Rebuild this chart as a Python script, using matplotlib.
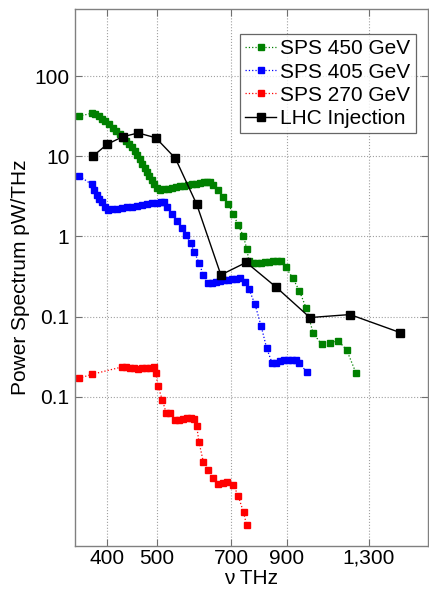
import matplotlib
matplotlib.use("Agg")
import matplotlib.pyplot as plt
from matplotlib.ticker import FixedLocator, FixedFormatter, NullLocator

plt.rcParams['font.family'] = ['Liberation Sans', 'DejaVu Sans']

# SPS 450 GeV spectrum (THz, pW/THz)
freq_450 = [352, 373, 379, 385, 391, 397, 404, 410, 417, 423, 430, 436, 442, 448,
            453, 458, 463, 468, 474, 479, 484, 490, 495, 501, 508, 517, 527, 536,
            546, 556, 566, 576, 587, 597, 608, 619, 628, 636, 646, 660, 674, 691,
            707, 722, 739, 751, 758, 773, 786, 801, 815, 830, 845, 860, 878, 895,
            923, 952, 982, 1013, 1052, 1092, 1134, 1178, 1228]
power_450 = [31.5, 34.3, 33.6, 31.7, 29.5, 27.5, 24.9, 22.8, 20.9, 18.9, 17.1, 15.7,
             14.2, 13.0, 11.6, 10.4, 9.24, 8.12, 7.24, 6.36, 5.67, 5.06, 4.51, 4.02,
             3.80, 3.87, 3.95, 4.03, 4.12, 4.20, 4.28, 4.36, 4.45, 4.54, 4.62, 4.71,
             4.78, 4.82, 4.38, 3.77, 3.13, 2.52, 1.89, 1.39, 1.02, 0.698, 0.495,
             0.463, 0.467, 0.474, 0.481, 0.488, 0.495, 0.499, 0.495, 0.413, 0.307,
             0.209, 0.127, 0.0622, 0.0454, 0.0475, 0.0503, 0.0385, 0.0201]

# SPS 405 GeV spectrum
freq_405 = [353, 373, 377, 382, 386, 391, 396, 402, 409, 418, 428, 438, 448, 458,
            468, 479, 490, 501, 510, 516, 523, 535, 548, 560, 571, 583, 593, 606,
            617, 630, 642, 654, 665, 678, 690, 702, 715, 728, 745, 758, 779, 801,
            821, 842, 857, 872, 888, 904, 920, 937, 951, 983]
power_405 = [5.67, 4.45, 3.80, 3.29, 2.93, 2.69, 2.33, 2.14, 2.17, 2.22, 2.27, 2.31,
             2.36, 2.42, 2.47, 2.52, 2.58, 2.64, 2.69, 2.71, 2.35, 1.91, 1.56, 1.29,
             1.04, 0.823, 0.632, 0.463, 0.331, 0.263, 0.267, 0.271, 0.276, 0.283,
             0.287, 0.293, 0.297, 0.301, 0.271, 0.222, 0.143, 0.0767, 0.0408,
             0.0263, 0.0269, 0.0277, 0.0285, 0.0289, 0.0293, 0.0285, 0.0269, 0.0205]

# SPS 270 GeV spectrum
freq_270 = [352, 374, 428, 436, 444, 452, 460, 468, 477, 486, 494, 498, 503, 513,
            522, 531, 543, 553, 563, 574, 584, 592, 599, 605, 617, 631, 645, 660,
            675, 688, 707, 722, 740, 750]
power_270 = [0.0171, 0.0192, 0.0237, 0.0234, 0.0230, 0.0227, 0.0223, 0.0227, 0.0231,
             0.0233, 0.0234, 0.0199, 0.0137, 0.00918, 0.00632, 0.00623, 0.00517,
             0.00524, 0.00532, 0.00540, 0.00543, 0.00532, 0.00436, 0.00277, 0.00157,
             0.00123, 0.000965, 0.000824, 0.00084, 0.000873, 0.00080, 0.000589,
             0.000365, 0.000254]

# LHC injection spectrum
freq_lhc = [375, 400, 429, 460, 498, 544, 599, 668, 749, 857, 998, 1196, 1498]
power_lhc = [10.0, 14.1, 17.5, 19.5, 17.0, 9.44, 2.52, 0.332, 0.476, 0.234, 0.0977,
             0.1065, 0.0636]

x_ticks = [400, 500, 700, 900, 1300]
x_tick_labels = ['400', '500', '700', '900', '1,300']
y_ticks = [100, 10, 1, 0.1, 0.01]
y_tick_labels = ['100', '10', '1', '0.1', '0.1']

FS = 15

fig = plt.figure(figsize=(4.29, 5.90), dpi=100)
ax = fig.add_axes([75 / 429, 44 / 590, 353 / 429, 537 / 590])
ax.set_xscale('log')
ax.set_yscale('log')

ms_small = 5.0
ax.plot(freq_450, power_450, ls=':', lw=0.9, color='#008000', marker='s',
        ms=ms_small, mec='#008000', mfc='#008000', label='SPS 450 GeV')
ax.plot(freq_405, power_405, ls=':', lw=0.9, color='#0000ff', marker='s',
        ms=ms_small, mec='#0000ff', mfc='#0000ff', label='SPS 405 GeV')
ax.plot(freq_270, power_270, ls=':', lw=0.9, color='#ff0000', marker='s',
        ms=ms_small, mec='#ff0000', mfc='#ff0000', label='SPS 270 GeV')
ax.plot(freq_lhc, power_lhc, ls='-', lw=1.0, color='black', marker='s',
        ms=5.8, mec='black', mfc='black', label='LHC Injection')

ax.set_xlim(346, 1700)
ax.set_ylim(1.39e-4, 684)

ax.xaxis.set_major_locator(FixedLocator(x_ticks))
ax.xaxis.set_major_formatter(FixedFormatter(x_tick_labels))
ax.xaxis.set_minor_locator(NullLocator())
ax.yaxis.set_major_locator(FixedLocator(y_ticks))
ax.yaxis.set_major_formatter(FixedFormatter(y_tick_labels))
ax.yaxis.set_minor_locator(NullLocator())

ax.grid(True, which='major', ls=':', color='#a0a0a0', lw=0.8)
ax.tick_params(which='major', direction='in', top=True, right=True, length=5,
               width=0.8, color='#707070', labelsize=FS)
ax.tick_params(axis='x', pad=2)
ax.tick_params(axis='y', pad=4)
for sp in ax.spines.values():
    sp.set_color('#808080')
    sp.set_linewidth(1.0)

ax.set_xlabel('ν THz', fontsize=FS, va='center')
ax.xaxis.set_label_coords(0.5, -0.06)
ax.set_ylabel('Power Spectrum pW/THz', fontsize=FS, va='center')
ax.yaxis.set_label_coords(-0.155, 0.5)

leg = ax.legend(loc='upper right', bbox_to_anchor=(0.965, 0.953), fontsize=FS,
                frameon=True, fancybox=False, borderpad=0.25, labelspacing=0.2,
                handlelength=1.5, handletextpad=0.2, borderaxespad=0)
leg.get_frame().set_edgecolor('#404040')
leg.get_frame().set_linewidth(0.9)

fig.savefig('out.png', dpi=100)
